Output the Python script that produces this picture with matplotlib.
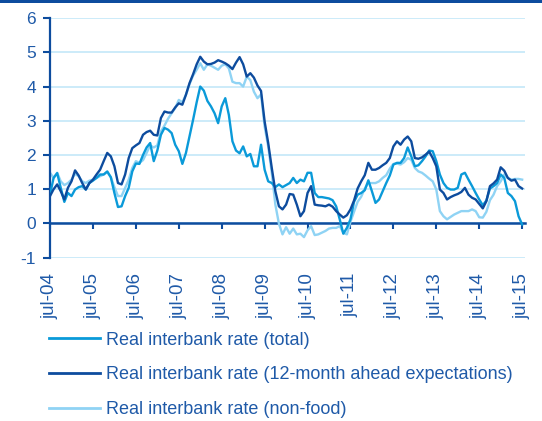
import numpy as np
import matplotlib
matplotlib.use("Agg")
import matplotlib.pyplot as plt

plt.rcParams['font.family'] = ['Liberation Sans', 'DejaVu Sans']
plt.rcParams['axes.unicode_minus'] = False

# monthly data, jul-04 ... jul-15
total = [0.85, 1.33, 1.47, 1.04, 0.63, 0.89, 0.80, 0.99, 1.06, 1.09, 0.99, 1.18,
         1.25, 1.33, 1.43, 1.43, 1.52, 1.35, 0.89, 0.48, 0.50, 0.80, 1.04, 1.52,
         1.75, 1.74, 2.00, 2.22, 2.35, 1.82, 2.13, 2.59, 2.79, 2.74, 2.64, 2.30,
         2.11, 1.74, 2.06, 2.54, 3.03, 3.54, 4.00, 3.88, 3.58, 3.42, 3.22, 2.93,
         3.42, 3.66, 3.17, 2.40, 2.13, 2.05, 2.25, 1.96, 2.03, 1.67, 1.67, 2.30,
         1.57, 1.23, 1.18, 1.06, 1.14, 1.06, 1.12, 1.18, 1.33, 1.18, 1.28, 1.23,
         1.48, 1.48, 0.89, 0.77, 0.77, 0.75, 0.73, 0.68, 0.50, 0.12, -0.30, -0.13,
         0.12, 0.63, 0.84, 0.89, 0.97, 1.26, 0.94, 0.60, 0.70, 0.94, 1.18, 1.40,
         1.72, 1.77, 1.77, 1.91, 2.22, 1.96, 1.67, 1.70, 1.82, 1.96, 2.13, 2.11,
         1.82, 1.43, 1.18, 1.04, 0.99, 0.99, 1.04, 1.43, 1.48, 1.28, 1.09, 0.89,
         0.70, 0.53, 0.67, 1.02, 1.09, 1.18, 1.43, 1.33, 0.89, 0.80, 0.65, 0.21,
         -0.03]
expect12 = [0.80, 1.00, 1.14, 0.94, 0.70, 1.04, 1.23, 1.55, 1.40, 1.18, 0.99, 1.18,
            1.28, 1.43, 1.57, 1.82, 2.06, 1.96, 1.67, 1.18, 1.14, 1.43, 1.91, 2.20,
            2.28, 2.35, 2.59, 2.67, 2.71, 2.59, 2.57, 3.08, 3.27, 3.24, 3.24, 3.39,
            3.51, 3.47, 3.76, 4.10, 4.36, 4.65, 4.87, 4.73, 4.65, 4.66, 4.70, 4.77,
            4.73, 4.68, 4.61, 4.51, 4.70, 4.86, 4.65, 4.29, 4.39, 4.26, 4.03, 3.87,
            2.98, 2.35, 1.62, 0.94, 0.50, 0.41, 0.55, 0.86, 0.84, 0.55, 0.21, 0.36,
            0.89, 1.09, 0.55, 0.53, 0.52, 0.50, 0.55, 0.49, 0.36, 0.26, 0.17, 0.24,
            0.41, 0.67, 1.02, 1.23, 1.41, 1.77, 1.57, 1.57, 1.62, 1.70, 1.77, 1.91,
            2.25, 2.40, 2.30, 2.45, 2.54, 2.40, 1.91, 1.89, 1.93, 2.01, 2.10, 1.91,
            1.67, 0.99, 0.89, 0.70, 0.77, 0.82, 0.86, 0.92, 1.04, 0.84, 0.75, 0.70,
            0.57, 0.44, 0.65, 1.09, 1.17, 1.28, 1.64, 1.54, 1.33, 1.25, 1.28, 1.09,
            1.02]
nonfood = [1.48, 1.33, 1.48, 1.23, 1.12, 1.18, 1.28, 1.45, 1.38, 1.23, 1.18, 1.25,
           1.28, 1.33, 1.38, 1.43, 1.50, 1.35, 1.06, 0.80, 0.80, 1.04, 1.28, 1.62,
           1.82, 1.77, 1.85, 2.06, 2.28, 2.22, 2.28, 2.69, 2.86, 3.06, 3.22, 3.37,
           3.61, 3.54, 3.76, 4.07, 4.32, 4.49, 4.68, 4.49, 4.65, 4.61, 4.55, 4.49,
           4.61, 4.65, 4.53, 4.14, 4.10, 4.10, 4.00, 4.29, 4.19, 3.85, 3.66, 3.77,
           2.83, 2.25, 1.48, 0.55, -0.01, -0.32, -0.11, -0.30, -0.15, -0.32, -0.30, -0.40,
           -0.20, -0.08, -0.34, -0.32, -0.27, -0.22, -0.15, -0.13, -0.13, -0.08, -0.27, -0.32,
           0.05, 0.34, 0.63, 0.78, 1.02, 1.18, 1.18, 1.18, 1.23, 1.33, 1.41, 1.60,
           1.74, 1.75, 1.72, 1.79, 1.91, 1.86, 1.62, 1.52, 1.48, 1.40, 1.31, 1.23,
           0.99, 0.36, 0.21, 0.12, 0.19, 0.26, 0.31, 0.36, 0.36, 0.36, 0.41, 0.36,
           0.18, 0.17, 0.34, 0.68, 0.84, 1.09, 1.23, 1.43, 1.33, 1.28, 1.30, 1.30,
           1.28]
tick_labels = ['jul-04', 'jul-05', 'jul-06', 'jul-07', 'jul-08', 'jul-09',
               'jul-10', 'jul-11', 'jul-12', 'jul-13', 'jul-14', 'jul-15']
series_names = ['Real interbank rate (total)',
                'Real interbank rate (12-month ahead expectations)',
                'Real interbank rate (non-food)']

c_total = '#0a9ad9'
c_exp = '#0d4c9e'
c_nonfood = '#8fd3f4'
c_text = '#1f5aa8'
c_grid = '#c4e7f8'

x = np.arange(len(total))
ticks = np.arange(0, len(total), 12)

fig = plt.figure(figsize=(5.42, 4.21), dpi=100)
ax = fig.add_axes([0.0923, 0.388, 0.877, 0.569])

ax.plot(x, total, color=c_total, lw=1.7, label=series_names[0], zorder=3)
ax.plot(x, expect12, color=c_exp, lw=1.7, label=series_names[1], zorder=3)
ax.plot(x, nonfood, color=c_nonfood, lw=1.7, label=series_names[2], zorder=2)

ax.set_ylim(-1, 6)
ax.set_xlim(0, 132.9)
ax.set_yticks(range(-1, 7))
ax.yaxis.grid(True, color=c_grid, lw=1.2)
ax.set_axisbelow(True)

for s in ['top', 'right']:
    ax.spines[s].set_visible(False)
ax.spines['left'].set_color(c_exp)
ax.spines['left'].set_linewidth(1.6)
ax.spines['bottom'].set_position(('data', 0))
ax.spines['bottom'].set_color(c_exp)
ax.spines['bottom'].set_linewidth(1.8)
ax.spines['bottom'].set_zorder(1)

ax.tick_params(axis='y', direction='out', length=5, width=1.5, color=c_exp,
               labelsize=12.5, labelcolor=c_text, pad=5)
ax.set_xticks(ticks)
ax.tick_params(axis='x', direction='out', length=4, width=1.5, color=c_exp,
               labelbottom=False)

sec = ax.secondary_xaxis('bottom')
sec.set_xticks(ticks)
sec.set_xticklabels(tick_labels, rotation=90)
sec.tick_params(length=0, labelsize=13.5, labelcolor=c_text, pad=11)
sec.spines['bottom'].set_visible(False)

# top banner line
fig.add_artist(plt.Rectangle((0, 1 - 3 / 421), 1, 3 / 421, transform=fig.transFigure,
                             color=c_exp, lw=0))

leg = fig.legend(loc='upper left', bbox_to_anchor=(0.090, 0.212), frameon=False,
                 fontsize=13, handlelength=2.82, handletextpad=0.33,
                 labelspacing=0.98, borderpad=0, borderaxespad=0)
for t in leg.get_texts():
    t.set_color(c_text)
for h in leg.legend_handles:
    h.set_linewidth(2)

fig.savefig('out.png', dpi=100)
